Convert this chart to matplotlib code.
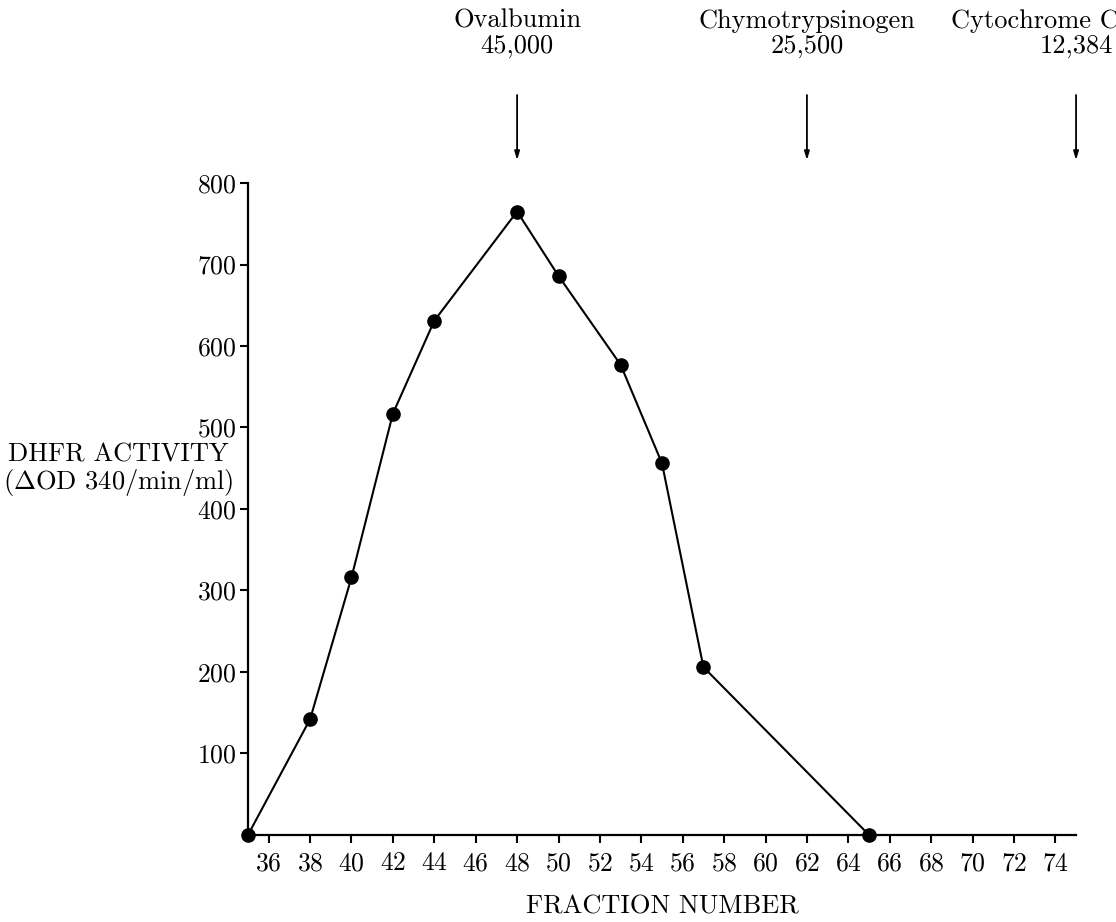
import matplotlib
matplotlib.use("Agg")
import matplotlib.pyplot as plt

# elution profile: DHFR activity per fraction
fractions = [35, 38, 40, 42, 44, 48, 50, 53, 55, 57, 65]
activity = [0, 142, 316, 517, 631, 765, 686, 577, 456, 206, 0]

# molecular weight markers
marker_names = ["Ovalbumin", "Chymotrypsinogen", "Cytochrome C"]
marker_weights = ["45,000", "25,500", "12,384"]
marker_fractions = [48, 62, 75]

x_ticks = list(range(36, 75, 2))
y_ticks = [100, 200, 300, 400, 500, 600, 700, 800]

# the last name runs off the page, so it sits a little left of its arrow
name_shift = [0, 0, -2.0]

plt.rcParams["font.family"] = "cmr10"
plt.rcParams["mathtext.fontset"] = "cm"
plt.rcParams["axes.formatter.use_mathtext"] = True

fig = plt.figure(figsize=(11.16, 9.22), dpi=100)
ax = fig.add_axes([0.2222, 0.0944, 0.7420, 0.7071])

ax.plot(fractions, activity, color="black", lw=1.5, marker="o",
        markersize=9.5, clip_on=False, zorder=3)

ax.set_xlim(35, 75)
ax.set_ylim(0, 800)
ax.set_xticks(x_ticks)
ax.set_yticks(y_ticks)
ax.tick_params(axis="both", direction="out", width=1.5, labelsize=18.5,
               color="black")
ax.tick_params(axis="x", length=6, pad=6)
ax.tick_params(axis="y", length=6, pad=2)

for side in ["top", "right"]:
    ax.spines[side].set_visible(False)
for side in ["left", "bottom"]:
    ax.spines[side].set_linewidth(1.6)

ax.set_xlabel("FRACTION NUMBER", fontsize=19, labelpad=14)

fig.text(0.106, 0.490, "DHFR ACTIVITY\n($\\Delta$OD 340/min/ml)",
         ha="center", va="center", fontsize=19, linespacing=1.05)

for name, weight, xf, dx in zip(marker_names, marker_weights,
                                marker_fractions, name_shift):
    ax.annotate("", xy=(xf, 828), xytext=(xf, 908),
                arrowprops=dict(arrowstyle="-|>,head_length=0.5,head_width=0.15",
                                color="black", lw=1.3, shrinkA=0, shrinkB=0),
                annotation_clip=False)
    ax.text(xf + dx, 999, name, ha="center", va="center",
            fontsize=19, clip_on=False)
    ax.text(xf, 968, weight, ha="center", va="center",
            fontsize=19, clip_on=False)

fig.savefig("out.png", dpi=100)
